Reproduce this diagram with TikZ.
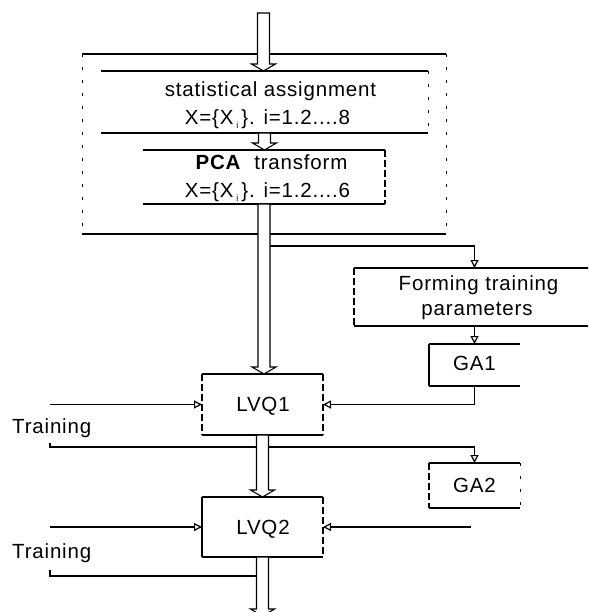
\documentclass[tikz,border=0pt]{standalone}
\usepackage{fontspec}
\setmainfont{Liberation Sans}[LetterSpace=4]
\usetikzlibrary{arrows.meta,calc}

% small lowered index after X
\newcommand\subi{\kern3pt\raisebox{-4pt}{\fontsize{9}{9}\selectfont i}\kern3pt}

% box outline: solid top and bottom, own styles for the left and right sides
\newcommand\scanbox[3]{%
  \draw[hedge] (#1.north west) -- (#1.north east) (#1.south west) -- (#1.south east);
  \draw[#2] (#1.north west) -- (#1.south west);
  \draw[#3] (#1.north east) -- (#1.south east);}

% hollow wide arrow pointing down from #1 to #2
\newcommand\fatarrow[2]{%
  \draw[fat] let \p1=(#1), \p2=(#2) in
    (\x1-6pt,\y1) -- (\x1-6pt,\y2+7pt) -- (\x1-12pt,\y2+7pt) -- (\x1,\y2)
    -- (\x1+12pt,\y2+7pt) -- (\x1+6pt,\y2+7pt) -- (\x1+6pt,\y1) -- cycle;}

\tikzset{
  boxn/.style={rectangle, inner sep=0pt, outer sep=0pt, draw=none},
  hedge/.style={line width=1.5pt},
  side/.style={line width=1.1pt, dash pattern=on 7pt off 3pt},
  faint/.style={line width=0.8pt, dash pattern=on 3pt off 10pt},
  nodraw/.style={draw=none},
  line/.style={line width=1.2pt},
  conn/.style={line width=1.2pt, -{Triangle[open, length=8pt, width=8pt, line width=1.2pt]}},
  fat/.style={line width=1.1pt, fill=white, line join=miter},
  txt/.style={font=\fontsize{20.5}{24}\selectfont, inner sep=0pt, anchor=base},
}

\begin{document}
\begin{tikzpicture}[x=1pt, y=-1pt]
\useasboundingbox (0,0) rectangle (588,612);
\clip (0,0) rectangle (588,612);

% blocks
\node[boxn, minimum width=364pt, minimum height=180pt] (outer) at (264,144) {};
\node[boxn, minimum width=327pt, minimum height=62pt]  (stat)  at (264.5,102) {};
\node[boxn, minimum width=242pt, minimum height=54pt]  (pca)   at (264,177) {};
\node[boxn, minimum width=248pt, minimum height=58pt]  (form)  at (478,297) {};
\node[boxn, minimum width=91pt,  minimum height=42pt]  (ga1)   at (474.5,365) {};
\node[boxn, minimum width=91pt,  minimum height=45pt]  (ga2)   at (474.5,485.5) {};
\node[boxn, minimum width=121pt, minimum height=61pt]  (lvq1)  at (262.5,404.5) {};
\node[boxn, minimum width=121pt, minimum height=60pt]  (lvq2)  at (262.5,527) {};

\scanbox{outer}{faint}{faint}
\scanbox{stat}{nodraw}{faint}
\scanbox{pca}{nodraw}{side}
\scanbox{form}{side}{nodraw}
\scanbox{ga1}{line}{nodraw}
\scanbox{ga2}{side}{faint}
\scanbox{lvq1}{side}{side}
\scanbox{lvq2}{line}{side}

% free ends of connectors
\coordinate (top)  at (263.5,13);
\coordinate (out)  at (262.5,616);
\coordinate (tap)  at (264,246);
\coordinate (tr1)  at (50,404.5);
\coordinate (tr2)  at (50,527);
\coordinate (fb1a) at (50,443);
\coordinate (fb1b) at (50,447);
\coordinate (fb2a) at (50,570);
\coordinate (fb2b) at (50,576);
\coordinate (g2out) at (471,527);

% thin connectors
\draw[conn] (tap) -| (form.north -| ga1.north);
\draw[conn] (form.south -| ga1.north) -- (ga1.north);
\draw[conn] (ga1.south) |- (lvq1.east);
\draw[conn] (tr1) -- (lvq1.west);
\draw[conn] (tr2) -- (lvq2.west);
\draw[conn] (g2out) -- (lvq2.east);
\draw[conn] (fb1a) -- (fb1b) -| (ga2.north);
\draw[line] (fb2a) -- (fb2b) -- (lvq2.south |- fb2b);

% main data flow
\fatarrow{top}{stat.north}
\fatarrow{stat.south}{pca.north}
\fatarrow{pca.south}{lvq1.north}
\fatarrow{lvq1.south}{lvq2.north}
\fatarrow{lvq2.south}{out}

% labels
\node[txt] (statA) at (270.5,97)  {statistical assignment};
\node[txt] (statB) at (267.5,125) {X=\{X\subi\}. i=1.2....8};
\node[txt] (pcaA)  at (271.5,170) {\textbf{PCA}\ \ transform};
\node[txt] (pcaB)  at (267.5,197) {X=\{X\subi\}. i=1.2....6};
\node[txt] (formA) at (478.5,290) {Forming training};
\node[txt] (formB) at (477,315)   {parameters};
\node[txt] (ga1T)  at (474.5,370) {GA1};
\node[txt] (ga2T)  at (474.5,492) {GA2};
\node[txt] (lvq1T) at (263,411.5) {LVQ1};
\node[txt] (lvq2T) at (263,534)   {LVQ2};
\node[txt, anchor=base west] (trainA) at (12,433) {Training};
\node[txt, anchor=base west] (trainB) at (12,558) {Training};
\end{tikzpicture}
\end{document}
